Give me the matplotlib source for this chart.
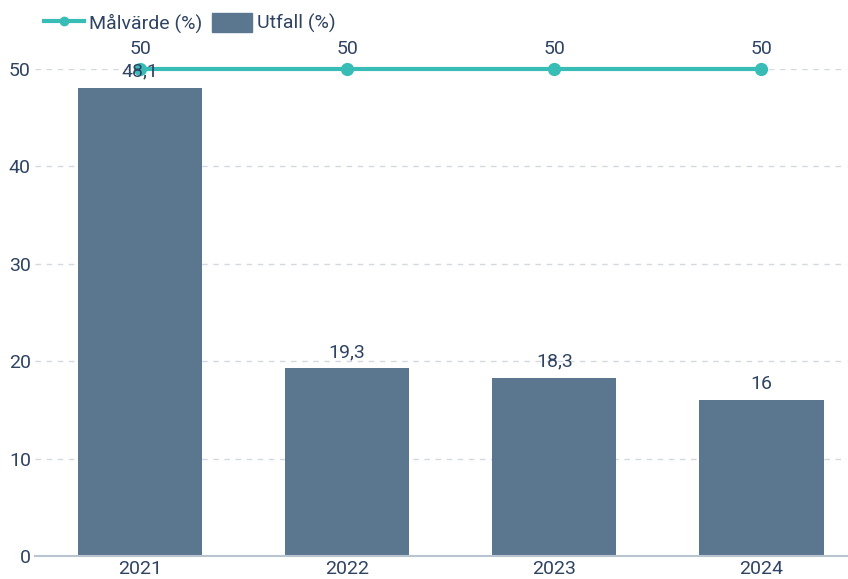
import matplotlib.pyplot as plt
from matplotlib.patches import Patch
from matplotlib.lines import Line2D

years = ["2021", "2022", "2023", "2024"]
utfall = [48.1, 19.3, 18.3, 16]
malvarde = [50, 50, 50, 50]
yticks = [0, 10, 20, 30, 40, 50]

BAR = "#5b7790"
LINE = "#37bdb6"
TEXT = "#2f4363"
FS = 14

plt.rcParams["font.family"] = ["Roboto", "DejaVu Sans"]


def fmt(v):
    return f"{v:g}".replace(".", ",")


def main() -> None:
    fig = plt.figure(figsize=(8.48, 5.79), dpi=100)
    ax = fig.add_axes([0.0413, 0.0397, 0.958, 0.841])
    x = range(len(years))

    ax.bar(x, utfall, width=0.6, color=BAR, zorder=2)
    ax.plot(x, malvarde, color=LINE, linewidth=3, marker="o", markersize=8.5,
            zorder=3, clip_on=False)

    for i, v in enumerate(utfall):
        ax.annotate(fmt(v), (i, v), xytext=(0, 5), textcoords="offset points",
                    ha="center", va="bottom", fontsize=FS, color=TEXT, zorder=4)
    for i, v in enumerate(malvarde):
        ax.annotate(fmt(v), (i, v), xytext=(0, 8), textcoords="offset points",
                    ha="center", va="bottom", fontsize=FS, color=TEXT, zorder=4)

    ax.set_xlim(-0.507, 3.415)
    ax.set_ylim(0, 50)
    ax.set_xticks(list(x))
    ax.set_xticklabels(years)
    ax.set_yticks(yticks)
    ax.tick_params(axis="both", length=0, labelsize=FS, labelcolor=TEXT)
    ax.tick_params(axis="x", pad=3)
    ax.tick_params(axis="y", pad=3)
    ax.grid(axis="y", color="#d5d9de", linestyle=(0, (4, 4)), linewidth=1, zorder=0)
    for s in ["top", "right", "left"]:
        ax.spines[s].set_visible(False)
    ax.spines["bottom"].set_color("#b8c4cf")
    ax.spines["bottom"].set_linewidth(1.5)

    handles = [
        Line2D([0], [0], color=LINE, linewidth=3, marker="o", markersize=6),
        Patch(facecolor=BAR, edgecolor=BAR),
    ]
    fig.legend(handles, ["Målvärde (%)", "Utfall (%)"], loc="upper left",
               bbox_to_anchor=(0.031, 1.008), ncol=2, frameon=False, fontsize=FS,
               labelcolor=TEXT, handlelength=2.06, handleheight=1.13,
               columnspacing=0.5, handletextpad=0.26)

    fig.savefig("out.png", dpi=100)


if __name__ == "__main__":
    main()
